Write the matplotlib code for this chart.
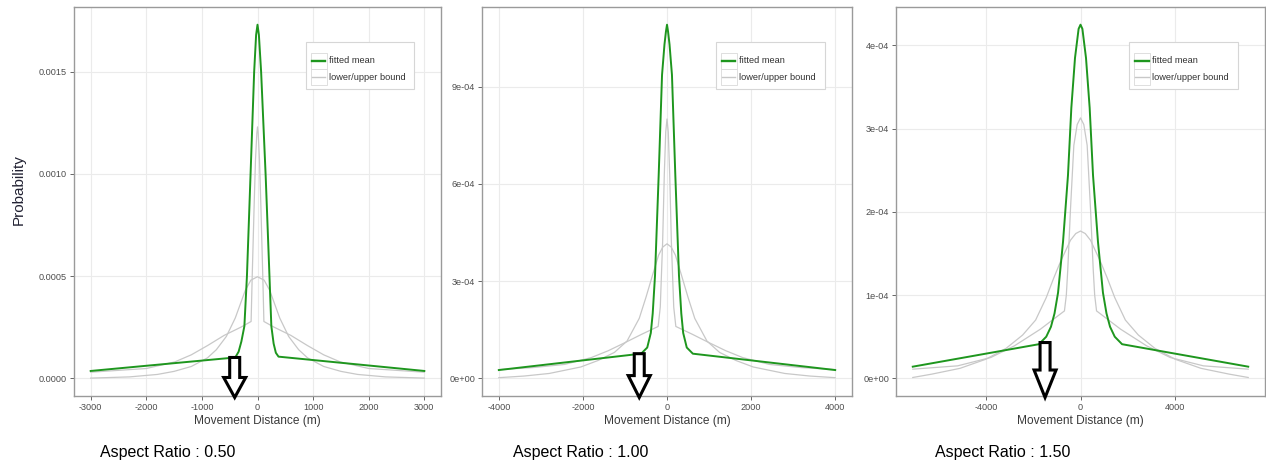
import matplotlib
matplotlib.use('Agg')
import matplotlib.pyplot as plt
from matplotlib.patches import Rectangle, Polygon
from matplotlib.lines import Line2D
from matplotlib.transforms import IdentityTransform

plt.rcParams['font.family'] = ['Liberation Sans', 'DejaVu Sans']

# ---- aspect ratio 0.50 ----
p1_mean_x = [-3000, -400, -340, -290, -236, -190, -126, -60, -25, 0,
             25, 65, 147, 200, 249, 290, 330, 378, 3000]
p1_mean_y = [3.6e-5, 1.02e-4, 1.3e-4, 1.8e-4, 2.55e-4, 5.0e-4, 9.9e-4, 1.50e-3, 1.68e-3, 1.73e-3,
             1.68e-3, 1.50e-3, 9.9e-4, 6.1e-4, 2.55e-4, 1.7e-4, 1.25e-4, 1.06e-4, 3.6e-5]
p1_narrow_x = [-3000, -2000, -1490, -1190, -900, -600, -300, -115, -95, -62, -36, -12, 0,
               12, 36, 62, 95, 115, 300, 600, 900, 1190, 1490, 2000, 3000]
p1_narrow_y = [3.0e-5, 4.8e-5, 8.0e-5, 1.15e-4, 1.6e-4, 2.1e-4, 2.5e-4, 2.78e-4, 5.0e-4, 8.3e-4, 1.07e-3, 1.2e-3, 1.23e-3,
               1.2e-3, 1.07e-3, 8.3e-4, 5.0e-4, 2.78e-4, 2.5e-4, 2.1e-4, 1.6e-4, 1.15e-4, 8.0e-5, 4.8e-5, 3.0e-5]
p1_wide_x = [-3000, -2300, -1800, -1500, -1190, -900, -740, -560, -400, -300, -220, -120, 0,
             120, 220, 300, 400, 560, 740, 900, 1190, 1500, 1800, 2300, 3000]
p1_wide_y = [1e-6, 7e-6, 1.9e-5, 3.4e-5, 5.8e-5, 1.0e-4, 1.4e-4, 2.05e-4, 2.95e-4, 3.7e-4, 4.3e-4, 4.8e-4, 4.97e-4,
             4.8e-4, 4.3e-4, 3.7e-4, 2.95e-4, 2.05e-4, 1.4e-4, 1.0e-4, 5.8e-5, 3.4e-5, 1.9e-5, 7e-6, 1e-6]
p1_xticks = [-3000, -2000, -1000, 0, 1000, 2000, 3000]
p1_yticks = [0.0, 0.0005, 0.0010, 0.0015]
p1_ylabels = ['0.0000', '0.0005', '0.0010', '0.0015']

# ---- aspect ratio 1.00 ----
p2_mean_x = [-4000, -615, -470, -385, -340, -285, -198, -118, -60, -25, 0,
             25, 60, 118, 198, 285, 340, 385, 470, 615, 4000]
p2_mean_y = [2.55e-5, 7.6e-5, 9.5e-5, 1.4e-4, 2.0e-4, 3.17e-4, 6.26e-4, 9.36e-4, 1.03e-3, 1.07e-3, 1.091e-3,
             1.07e-3, 1.03e-3, 9.36e-4, 6.26e-4, 3.17e-4, 2.0e-4, 1.4e-4, 9.5e-5, 7.6e-5, 2.55e-5]
p2_narrow_x = [-4000, -3200, -2430, -1800, -1400, -1000, -600, -210, -160, -104, -64, -30, 0,
               30, 64, 104, 160, 210, 600, 1000, 1400, 1800, 2430, 3200, 4000]
p2_narrow_y = [2.7e-5, 3.3e-5, 4.3e-5, 6.4e-5, 8.5e-5, 1.1e-4, 1.36e-4, 1.6e-4, 2.2e-4, 4.2e-4, 6.3e-4, 7.6e-4, 8.0e-4,
               7.6e-4, 6.3e-4, 4.2e-4, 2.2e-4, 1.6e-4, 1.36e-4, 1.1e-4, 8.5e-5, 6.4e-5, 4.3e-5, 3.3e-5, 2.7e-5]
p2_wide_x = [-4000, -3400, -2800, -2050, -1640, -1250, -950, -660, -500, -340, -200, -100, 0,
             100, 200, 340, 500, 660, 950, 1250, 1640, 2050, 2800, 3400, 4000]
p2_wide_y = [2e-6, 7e-6, 1.5e-5, 3.5e-5, 5.5e-5, 8.0e-5, 1.15e-4, 1.85e-4, 2.5e-4, 3.2e-4, 3.8e-4, 4.05e-4, 4.15e-4,
             4.05e-4, 3.8e-4, 3.2e-4, 2.5e-4, 1.85e-4, 1.15e-4, 8.0e-5, 5.5e-5, 3.5e-5, 1.5e-5, 7e-6, 2e-6]
p2_xticks = [-4000, -2000, 0, 2000, 4000]
p2_yticks = [0.0, 3e-4, 6e-4, 9e-4]
p2_ylabels = ['0e+00', '3e-04', '6e-04', '9e-04']

# ---- aspect ratio 1.50 ----
p3_mean_x = [-7100, -1760, -1450, -1250, -1100, -950, -740, -530, -388, -233, -80, 0,
             80, 233, 388, 530, 740, 950, 1100, 1250, 1450, 1760, 7100]
p3_mean_y = [1.4e-5, 4.1e-5, 5.0e-5, 6.2e-5, 7.8e-5, 1.03e-4, 1.64e-4, 2.44e-4, 3.25e-4, 3.85e-4, 4.2e-4, 4.25e-4,
             4.2e-4, 3.85e-4, 3.25e-4, 2.44e-4, 1.64e-4, 1.03e-4, 7.8e-5, 6.2e-5, 5.0e-5, 4.1e-5, 1.4e-5]
p3_narrow_x = [-7100, -5200, -3800, -2800, -1700, -680, -600, -540, -423, -282, -140, 0,
               140, 282, 423, 540, 600, 680, 1700, 2800, 3800, 5200, 7100]
p3_narrow_y = [1.1e-5, 1.5e-5, 2.5e-5, 3.9e-5, 5.9e-5, 8.1e-5, 1.0e-4, 1.3e-4, 2.04e-4, 2.8e-4, 3.05e-4, 3.13e-4,
               3.05e-4, 2.8e-4, 2.04e-4, 1.3e-4, 1.0e-4, 8.1e-5, 5.9e-5, 3.9e-5, 2.5e-5, 1.5e-5, 1.1e-5]
p3_wide_x = [-7100, -6300, -5100, -4000, -3150, -2450, -1900, -1450, -1140, -850, -423, -200, 0,
             200, 423, 850, 1140, 1450, 1900, 2450, 3150, 4000, 5100, 6300, 7100]
p3_wide_y = [1e-6, 5e-6, 1.2e-5, 2.3e-5, 3.6e-5, 5.2e-5, 7.0e-5, 9.7e-5, 1.2e-4, 1.4e-4, 1.66e-4, 1.74e-4, 1.77e-4,
             1.74e-4, 1.66e-4, 1.4e-4, 1.2e-4, 9.7e-5, 7.0e-5, 5.2e-5, 3.6e-5, 2.3e-5, 1.2e-5, 5e-6, 1e-6]
p3_xticks = [-4000, 0, 4000]
p3_yticks = [0.0, 1e-4, 2e-4, 3e-4, 4e-4]
p3_ylabels = ['0e+00', '1e-04', '2e-04', '3e-04', '4e-04']

ratio_labels = ['Aspect Ratio : 0.50', 'Aspect Ratio : 1.00', 'Aspect Ratio : 1.50']
# where the black arrows point (on the fitted mean's knee)
arrow_x = [-410, -660, -1500]
arrow_y = [1.02e-4, 7.6e-5, 4.3e-5]

GREEN = '#1e961e'
BOUND = '#c8c8c8'
GRID = '#ebebeb'
BORDER = '#9a9a9a'
TICK_TXT = '#4d4d4d'

W, H = 1266, 463
fig = plt.figure(figsize=(W / 100, H / 100), dpi=100)
fig.patch.set_facecolor('white')

# pixel boxes of the three panels (left, right), shared top/bottom
panel_px = [(74, 441), (482, 852), (896, 1265)]
top_px, bottom_px = 7, 396
ratio_text_px = [100, 513, 935]


def expand(lo, hi, frac=0.05):
    pad = (hi - lo) * frac
    return lo - pad, hi + pad


def draw_legend(ax):
    x0, x1, y0, y1 = 0.632, 0.926, 0.789, 0.910
    ax.add_patch(Rectangle((x0, y0), x1 - x0, y1 - y0, transform=ax.transAxes,
                           facecolor='white', edgecolor='#d6d6d6', lw=0.8, zorder=5))
    rows = [(0.862, GREEN, 1.7, 'fitted mean'), (0.819, BOUND, 1.0, 'lower/upper bound')]
    for yc, col, lw, txt in rows:
        ax.add_patch(Rectangle((0.645, yc - 0.0205), 0.044, 0.041, transform=ax.transAxes,
                               facecolor='white', edgecolor='#d9d9d9', lw=0.6, zorder=6))
        ax.add_line(Line2D([0.649, 0.685], [yc, yc], transform=ax.transAxes,
                           color=col, lw=lw, zorder=7))
        ax.text(0.695, yc, txt, transform=ax.transAxes, fontsize=6.7,
                color='#333333', va='center', ha='left', zorder=7)


def draw_arrow(ax, xd, yd):
    # hollow block arrow from the curve down to the axis
    cx, ytop = ax.transData.transform((xd, yd))
    ybot = ax.transAxes.transform((0, 0))[1] - 1.5
    length = ytop - ybot
    shaft, head = 5.0, 11.0
    ymid = ytop - length * 0.5
    pts = [(cx - shaft, ytop), (cx + shaft, ytop), (cx + shaft, ymid), (cx + head, ymid),
           (cx, ybot), (cx - head, ymid), (cx - shaft, ymid)]
    fig.add_artist(Polygon(pts, closed=True, transform=IdentityTransform(),
                           facecolor='white', edgecolor='black', lw=2.2,
                           joinstyle='miter', zorder=20))


panels = [
    (p1_mean_x, p1_mean_y, p1_narrow_x, p1_narrow_y, p1_wide_x, p1_wide_y, p1_xticks, p1_yticks, p1_ylabels),
    (p2_mean_x, p2_mean_y, p2_narrow_x, p2_narrow_y, p2_wide_x, p2_wide_y, p2_xticks, p2_yticks, p2_ylabels),
    (p3_mean_x, p3_mean_y, p3_narrow_x, p3_narrow_y, p3_wide_x, p3_wide_y, p3_xticks, p3_yticks, p3_ylabels),
]

for i, (mx, my, nx, ny, wx, wy, xt, yt, ylab) in enumerate(panels):
    left, right = panel_px[i]
    ax = fig.add_axes([left / W, 1 - bottom_px / H, (right - left) / W, (bottom_px - top_px) / H])
    ax.set_facecolor('white')

    ax.plot(wx, wy, color=BOUND, lw=0.9, zorder=2)
    ax.plot(nx, ny, color=BOUND, lw=0.9, zorder=2)
    ax.plot(mx, my, color=GREEN, lw=1.4, zorder=3)

    ax.set_xlim(*expand(min(mx), max(mx)))
    ax.set_ylim(*expand(0.0, max(my)))

    ax.set_xticks(xt)
    ax.set_xticklabels([str(v) for v in xt])
    ax.set_yticks(yt)
    ax.set_yticklabels(ylab)
    ax.grid(True, color=GRID, lw=0.8)
    ax.set_axisbelow(True)
    ax.tick_params(length=3, width=0.7, color='#666666', labelsize=6.6,
                   labelcolor=TICK_TXT, pad=2)
    for sp in ax.spines.values():
        sp.set_color(BORDER)
        sp.set_linewidth(1.0)

    ax.set_xlabel('Movement Distance (m)', fontsize=8.6, color='#3a3a3a', labelpad=2)

    draw_legend(ax)
    draw_arrow(ax, arrow_x[i], arrow_y[i])

    fig.text(ratio_text_px[i] / W, 1 - 452 / H, ratio_labels[i], fontsize=11.5,
             color='black', ha='left', va='center')

fig.text(19 / W, 1 - 190 / H, 'Probability', rotation=90, fontsize=11,
         color='#222233', ha='center', va='center')

fig.savefig('out.png', dpi=100, facecolor='white')
